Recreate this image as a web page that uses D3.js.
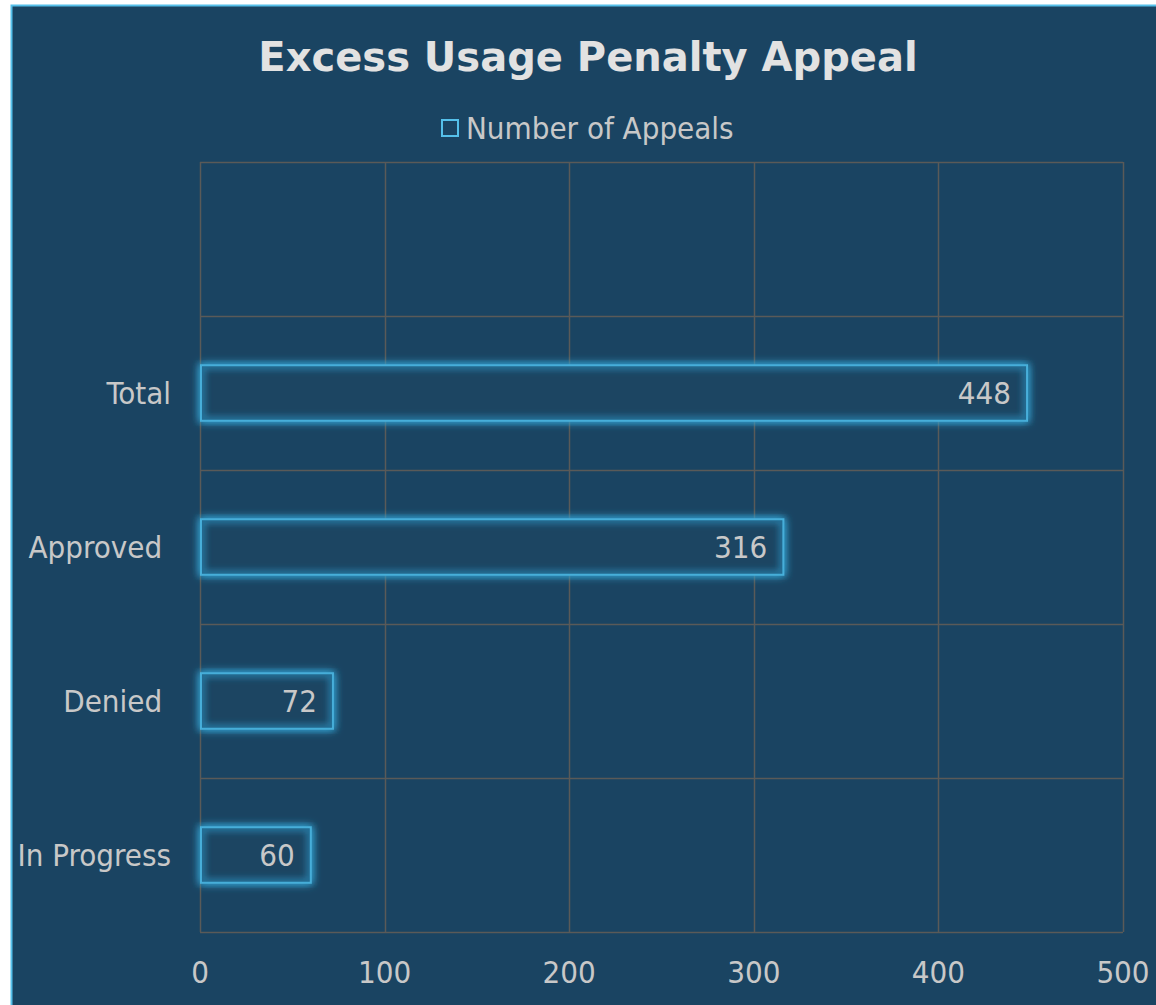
<!DOCTYPE html>
<html><head><meta charset="utf-8">
<script src="https://cdn.jsdelivr.net/npm/d3@7"></script>
<style>
html,body{margin:0;padding:0;background:#fff;}
svg{display:block;}
</style></head>
<body>
<svg id="c" width="1156" height="1005"></svg>
<script>
const title = "Excess Usage Penalty Appeal";
const seriesName = "Number of Appeals";
const categories = ["", "Total", "Approved ", "Denied ", "In Progress"];
const values = [null, 448, 316, 72, 60];
const xTicks = [0, 100, 200, 300, 400, 500];

const W = 1156, H = 1005;
const font = "'DejaVu Sans Condensed', 'DejaVu Sans', sans-serif";
const tfont = "'DejaVu Sans', sans-serif";
const svg = d3.select("#c");
const defs = svg.append("defs");
const f = defs.append("filter").attr("id","glow").attr("x","-20%").attr("y","-60%").attr("width","140%").attr("height","220%");
f.append("feGaussianBlur").attr("in","SourceAlpha").attr("stdDeviation",5).attr("result","b");
f.append("feFlood").attr("flood-color","#3ab8e8").attr("flood-opacity",1).attr("result","c");
f.append("feComposite").attr("in","c").attr("in2","b").attr("operator","in").attr("result","g");
const m = f.append("feMerge");
m.append("feMergeNode").attr("in","g");
m.append("feMergeNode").attr("in","SourceGraphic");

svg.append("rect").attr("x",0).attr("y",0).attr("width",W).attr("height",H).attr("fill","#ffffff");
svg.append("rect").attr("x",11).attr("y",5).attr("width",W-11).attr("height",H-5).attr("fill","#1a4462");
svg.append("path").attr("d",`M11.5,${H} V5.5 H${W}`).attr("fill","none").attr("stroke","#55c0ea").attr("stroke-width",2);

const plot = {l:200, r:1123, t:162, b:932};
const x = d3.scaleLinear().domain([0,500]).range([plot.l, plot.r]);
const y = d3.scaleBand().domain(categories).range([plot.t, plot.b]).padding(0);

const grid = "#5a5a58";
svg.append("g").selectAll("line").data(xTicks).join("line")
  .attr("x1",d=>Math.round(x(d))+0.5).attr("x2",d=>Math.round(x(d))+0.5)
  .attr("y1",plot.t).attr("y2",plot.b).attr("stroke",grid).attr("stroke-width",1.5);
const bounds = categories.map(c=>y(c)).concat([y(categories[categories.length-1])+y.bandwidth()]);
svg.append("g").selectAll("line").data(bounds).join("line")
  .attr("x1",plot.l).attr("x2",plot.r)
  .attr("y1",d=>Math.round(d)+0.5).attr("y2",d=>Math.round(d)+0.5)
  .attr("stroke",grid).attr("stroke-width",1.5);

svg.append("text").attr("x",588).attr("y",71).attr("text-anchor","middle")
  .attr("font-family",tfont).attr("font-weight","bold").attr("font-size",40)
  .attr("fill","#e2e2e2").text(title);

const lg = svg.append("g");
lg.append("rect").attr("x",442).attr("y",120).attr("width",16).attr("height",16)
  .attr("fill","none").attr("stroke","#55c0ea").attr("stroke-width",2);
lg.append("text").attr("x",466).attr("y",139).attr("font-family",font).attr("font-size",31)
  .attr("fill","#c8c8c8").text(seriesName);

const bh = y.bandwidth()*0.36;
const data = categories.map((c,i)=>({c, v: values[i]})).filter(d=>d.v!=null);
svg.append("g").selectAll("rect").data(data).join("rect")
  .attr("x",x(0)+1).attr("y",d=>y(d.c)+(y.bandwidth()-bh)/2)
  .attr("width",d=>x(d.v)-x(0)-1).attr("height",bh)
  .attr("fill","#1a4462").attr("stroke","#5cc6ee").attr("stroke-width",2)
  .attr("filter","url(#glow)");
const ig = defs.append("filter").attr("id","inner");
ig.append("feGaussianBlur").attr("stdDeviation",3);
svg.append("g").selectAll("rect").data(data).join("rect")
  .attr("x",x(0)+2).attr("y",d=>y(d.c)+(y.bandwidth()-bh)/2+1)
  .attr("width",d=>x(d.v)-x(0)-3).attr("height",bh-2)
  .attr("fill","none").attr("stroke","#2a90c0").attr("stroke-width",7).attr("stroke-opacity",0.65)
  .attr("filter","url(#inner)");
svg.append("g").selectAll("text").data(data).join("text")
  .attr("x",d=>x(d.v)-16).attr("y",d=>y(d.c)+y.bandwidth()/2+11)
  .attr("text-anchor","end").attr("font-family",font).attr("font-size",31)
  .attr("fill","#c8c8c8").text(d=>d.v);

svg.append("g").selectAll("text").data(categories).join("text")
  .attr("x",171).attr("y",d=>y(d)+y.bandwidth()/2+11)
  .attr("text-anchor","end").attr("font-family",font).attr("font-size",31)
  .style("white-space","pre")
  .attr("fill","#c8c8c8").text(d=>d);

svg.append("g").selectAll("text").data(xTicks).join("text")
  .attr("x",d=>x(d)).attr("y",983).attr("text-anchor","middle")
  .attr("font-family",font).attr("font-size",31).attr("fill","#c8c8c8").text(d=>d);
</script>
</body></html>
